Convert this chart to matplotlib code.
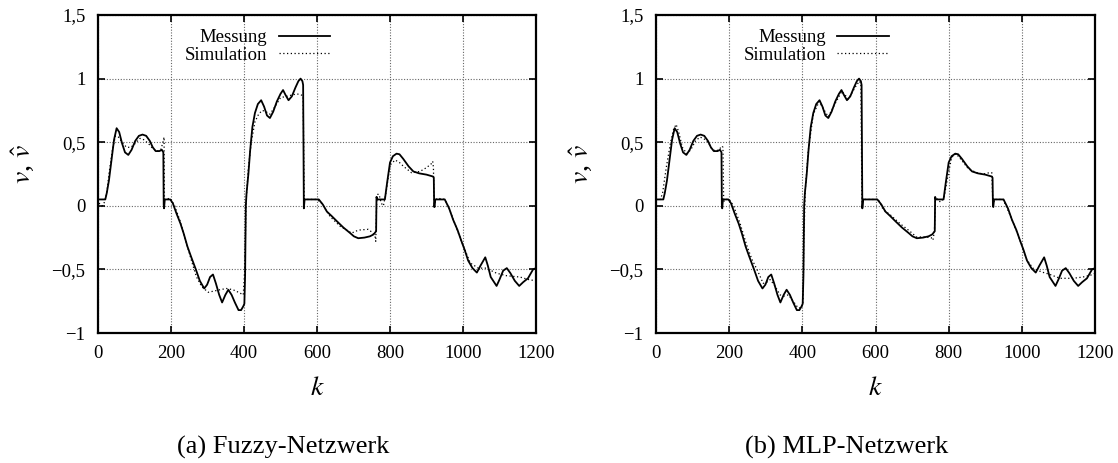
import matplotlib
matplotlib.use("Agg")
import matplotlib.pyplot as plt
from matplotlib import ticker

# ---------------- data ----------------
k_mess = [0, 10, 20, 24, 30, 37, 44, 51, 58, 66, 74, 83, 92, 102, 112, 122, 132, 142, 150, 158,
          168, 175, 179, 180, 181, 183, 198, 205, 215, 226, 235, 245, 255, 268, 279, 291, 299, 307,
          315, 323, 332, 340, 349, 357, 366, 375, 385, 392, 398, 401, 403, 405, 407, 412, 417, 423,
          430, 438, 447, 455, 463, 471, 480, 490, 500, 507, 514, 522, 531, 541, 549, 555, 560, 562,
          563, 564, 566, 605, 616, 627, 640, 654, 672, 691, 701, 713, 730, 745, 755, 759, 762, 763,
          765, 786, 792, 800, 808, 818, 826, 836, 851, 864, 880, 900, 918, 920, 921, 922, 924, 950,
          962, 973, 985, 996, 1005, 1014, 1026, 1038, 1048, 1061, 1068, 1076, 1092, 1100, 1110, 1120,
          1130, 1142, 1154, 1165, 1178, 1186, 1192, 1200]
v_mess = [0.05, 0.05, 0.05, 0.10, 0.20, 0.36, 0.52, 0.61, 0.58, 0.49, 0.42, 0.40, 0.44, 0.51, 0.55, 0.56, 0.55, 0.51, 0.46, 0.43,
          0.43, 0.44, 0.42, 0.01, -0.02, 0.05, 0.05, 0.02, -0.06, -0.14, -0.22, -0.32, -0.40, -0.50, -0.59, -0.65, -0.62, -0.56,
          -0.54, -0.61, -0.70, -0.76, -0.70, -0.66, -0.70, -0.76, -0.82, -0.82, -0.79, -0.77, -0.55, 0.0, 0.10, 0.25, 0.44, 0.62,
          0.73, 0.80, 0.83, 0.78, 0.71, 0.69, 0.74, 0.82, 0.88, 0.91, 0.87, 0.83, 0.86, 0.93, 0.98, 1.00, 0.98, 0.95,
          0.40, -0.02, 0.05, 0.05, 0.01, -0.045, -0.08, -0.12, -0.17, -0.215, -0.24, -0.255, -0.25, -0.24, -0.225, -0.21, -0.20, 0.07,
          0.05, 0.05, 0.18, 0.34, 0.39, 0.41, 0.405, 0.37, 0.31, 0.27, 0.255, 0.245, 0.23, 0.22, 0.0, -0.01, 0.05, 0.05,
          -0.02, -0.11, -0.19, -0.28, -0.35, -0.43, -0.49, -0.525, -0.47, -0.405, -0.47, -0.56, -0.63, -0.58, -0.51, -0.49,
          -0.53, -0.59, -0.63, -0.60, -0.57, -0.53, -0.50, -0.49]

k_sim_a = [0, 5, 12, 18, 24, 30, 40, 48, 56, 66, 78, 90, 102, 115, 125, 138, 150, 162, 172, 178, 181, 182,
           185, 197, 210, 225, 243, 258, 270, 284, 302, 318, 334, 352, 370, 385, 398, 402, 406, 412, 420,
           430, 440, 450, 460, 471, 485, 500, 515, 530, 545, 558, 562, 565, 575, 600, 613, 636, 663, 695,
           705, 718, 740, 752, 759, 761, 764, 770, 776, 782, 790, 800, 814, 826, 837, 859, 882, 900, 913,
           917, 919, 921, 924, 930, 950, 962, 975, 996, 1020, 1042, 1063, 1092, 1120, 1156, 1180, 1200]
v_sim_a = [0.05, 0.01, 0.0, 0.03, 0.10, 0.25, 0.45, 0.55, 0.54, 0.50, 0.46, 0.46, 0.49, 0.53, 0.52, 0.49, 0.45, 0.43, 0.44, 0.50, 0.54, 0.05,
           0.05, 0.06, 0.0, -0.12, -0.30, -0.45, -0.56, -0.635, -0.68, -0.67, -0.66, -0.65, -0.66, -0.68, -0.70, -0.50, 0.05, 0.30, 0.50,
           0.66, 0.72, 0.75, 0.74, 0.72, 0.78, 0.85, 0.86, 0.87, 0.88, 0.87, 0.86, 0.05, 0.05, 0.05, 0.02, -0.085, -0.16, -0.215,
           -0.20, -0.19, -0.185, -0.21, -0.24, -0.28, 0.09, 0.09, 0.02, 0.0, 0.12, 0.32, 0.36, 0.34, 0.31, 0.26, 0.27, 0.30, 0.33,
           0.35, 0.30, -0.02, 0.04, 0.06, 0.05, -0.02, -0.12, -0.28, -0.45, -0.49, -0.49, -0.53, -0.55, -0.56, -0.58, -0.59]

k_sim_b = [0, 12, 18, 28, 40, 48, 55, 62, 72, 84, 95, 108, 120, 130, 142, 152, 162, 172, 180, 183, 185, 188,
           200, 212, 230, 248, 262, 276, 293, 303, 312, 325, 339, 350, 362, 375, 389, 398, 402, 404, 408, 416,
           430, 446, 458, 471, 489, 508, 526, 544, 556, 560, 563, 567, 608, 621, 640, 667, 694, 712, 735, 752,
           757, 761, 764, 772, 778, 787, 797, 808, 820, 835, 854, 877, 895, 911, 918, 921, 925, 949, 972, 995,
           1013, 1030, 1054, 1077, 1104, 1140, 1167, 1195, 1200]
v_sim_b = [0.05, 0.05, 0.10, 0.30, 0.50, 0.60, 0.64, 0.58, 0.46, 0.41, 0.44, 0.51, 0.54, 0.53, 0.50, 0.45, 0.43, 0.44, 0.47, 0.46, 0.03, 0.05,
           0.05, 0.0, -0.14, -0.31, -0.42, -0.50, -0.61, -0.60, -0.58, -0.63, -0.70, -0.71, -0.70, -0.75, -0.805, -0.80, -0.75, -0.30, 0.12, 0.43,
           0.72, 0.82, 0.76, 0.70, 0.80, 0.90, 0.84, 0.93, 0.98, 0.96, 0.02, 0.05, 0.05, -0.03, -0.07, -0.14, -0.20, -0.245, -0.245, -0.25,
           -0.27, -0.20, 0.07, 0.04, 0.03, 0.06, 0.22, 0.38, 0.41, 0.36, 0.29, 0.26, 0.25, 0.26, 0.26, 0.0, 0.05, 0.05, -0.10, -0.27,
           -0.42, -0.49, -0.52, -0.54, -0.57, -0.57, -0.56, -0.54, -0.53]

x_ticks = [0, 200, 400, 600, 800, 1000, 1200]
y_ticks = [-1, -0.5, 0, 0.5, 1, 1.5]
labels = ["Messung", "Simulation"]
captions = ["(a) Fuzzy-Netzwerk", "(b) MLP-Netzwerk"]

# ---------------- styling ----------------
plt.rcParams['font.family'] = ['Liberation Serif', 'DejaVu Serif']
plt.rcParams['mathtext.fontset'] = 'stix'

W, H = 1118, 463
fig = plt.figure(figsize=(W / 100, H / 100), dpi=100)


def yfmt(v, pos):
    s = ("%g" % v).replace(".", ",")
    return s.replace("-", "\u2212")


def make_axes(left_px, width_px, sim_k, sim_v, caption, cap_x):
    ax = fig.add_axes([left_px / W, (H - 333) / H, width_px / W, 318 / H])
    ax.plot(k_mess, v_mess, color='black', lw=1.3, label=labels[0], zorder=3)
    ax.plot(sim_k, sim_v, color='black', lw=0.9, linestyle=(0, (1, 2)), label=labels[1], zorder=3)
    ax.set_xlim(0, 1200)
    ax.set_ylim(-1, 1.5)
    ax.set_xticks(x_ticks)
    ax.set_yticks(y_ticks)
    ax.yaxis.set_major_formatter(ticker.FuncFormatter(yfmt))
    ax.grid(True, color='#666666', lw=0.8, linestyle=(0, (1, 1.5)), zorder=0)
    ax.set_axisbelow(True)
    ax.tick_params(direction='in', length=5, width=1.2, top=True, right=True,
                   labelsize=13.5, pad=9)
    for sp in ax.spines.values():
        sp.set_linewidth(1.6)
    ax.set_xlabel("$k$", fontsize=20)
    ax.xaxis.set_label_coords(0.5, -0.135)
    ax.set_ylabel("$v$, $\\hat{v}$", fontsize=20)
    ax.yaxis.set_label_coords(-0.14, 0.53)
    ax.legend(loc='upper right', bbox_to_anchor=(0.53, 0.955), markerfirst=False,
              frameon=False, fontsize=13.5, handlelength=2.75, handletextpad=0.6,
              labelspacing=0.0, borderpad=0, borderaxespad=0)
    fig.text(cap_x / W, 0.02, caption, ha='center', va='baseline', fontsize=19)
    return ax


make_axes(98, 438, k_sim_a, v_sim_a, captions[0], 283)
make_axes(656, 439, k_sim_b, v_sim_b, captions[1], 847)

fig.savefig("out.png", dpi=100)
